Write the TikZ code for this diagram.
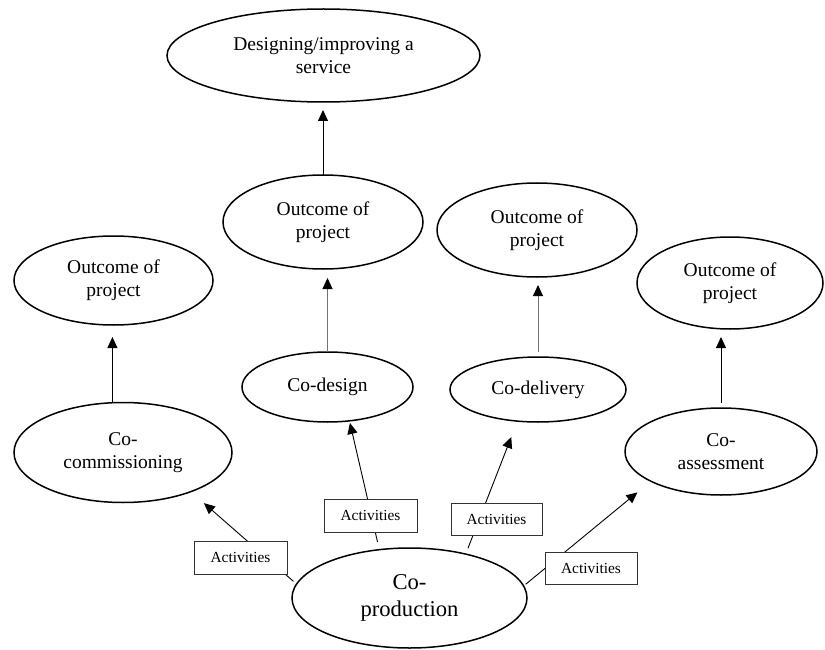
\documentclass[tikz,border=0pt]{standalone}
\usepackage{fontspec}
\setmainfont{Liberation Serif}
\usetikzlibrary{shapes.geometric,arrows.meta}
\tikzset{
  oval/.style={ellipse, draw=black, line width=1.5pt, inner sep=0pt, outer sep=0pt,
    align=center, font=\fontsize{19.5}{23}\selectfont},
  actbox/.style={rectangle, draw=black!80, line width=0.8pt, fill=white,
    minimum width=92pt, minimum height=32pt, inner sep=0pt,
    font=\fontsize{15.4}{18}\selectfont},
  arr/.style={draw=black, line width=0.9pt, -{Triangle[length=11pt,width=10pt,color=black]}},
  grayarr/.style={arr, draw=black!55}
}
\begin{document}
\begin{tikzpicture}[x=1pt,y=-1pt]
\useasboundingbox (0,0) rectangle (825,650);
% ellipses
\node[oval, minimum width=313pt, minimum height=93pt] (design) at (323.5,55.5) {Designing/improving a\\service};
\node[oval, minimum width=200pt, minimum height=94pt] (outM) at (323,222) {Outcome of\\project};
\node[oval, minimum width=200pt, minimum height=94pt] (outRa) at (537,230) {Outcome of\\project};
\node[oval, minimum width=199pt, minimum height=89pt] (outL) at (113.5,280.5) {Outcome of\\project};
\node[oval, minimum width=186pt, minimum height=92pt] (outRb) at (730,283) {Outcome of\\project};
\node[oval, minimum width=218pt, minimum height=100pt] (cocomm) at (123,452.5) {Co-\\commissioning};
\node[oval, minimum width=171pt, minimum height=70pt] (codesign) at (327.5,387) {Co-design};
\node[oval, minimum width=176pt, minimum height=65pt] (codelivery) at (538,389.5) {Co-delivery};
\node[oval, minimum width=192pt, minimum height=87pt] (coassess) at (721,451.5) {Co-\\assessment};
\node[oval, minimum width=235pt, minimum height=100pt, font=\fontsize{22.6}{27}\selectfont] (prod) at (409.5,598) {Co-\\production};
% vertical arrows
\draw[arr, shorten >=12pt] (cocomm.102.5) -- (cocomm.102.5 |- outL.south);
\draw[grayarr, shorten >=9pt] (codesign.north) -- (codesign.north |- outM.south);
\draw[arr, shorten >=8pt] (outM.north) -- (outM.north |- design.south);
\draw[grayarr, shorten <=5pt, shorten >=8pt] (codelivery.north) -- (codelivery.north |- outRa.south);
\draw[arr, shorten <=5pt, shorten >=8pt] (coassess.north) -- (coassess.north |- outRb.south);
% diagonal arrows from co-production
\draw[arr, shorten <=4.2pt, shorten >=17.4pt] (prod.173.4) -- (cocomm.-30.6);
\draw[arr, shorten <=7.9pt, shorten >=2.2pt] (prod.122.5) -- (codesign.-57);
\draw[arr, shorten <=6.3pt, shorten >=17.1pt] (prod.38.6) -- (codelivery.-123.2);
\draw[arr, shorten <=2.8pt, shorten >=17.5pt] (prod.6.65) -- (coassess.-157);
% activity boxes
\node[actbox, minimum width=93pt, minimum height=33pt] (act1) at (240.5,557.5) {Activities};
\node[actbox, minimum width=93pt, minimum height=33pt] (act2) at (370.5,515.5) {Activities};
\node[actbox, minimum width=91pt] (act3) at (496.5,519) {Activities};
\node[actbox] (act4) at (591,568) {Activities};
\end{tikzpicture}
\end{document}
